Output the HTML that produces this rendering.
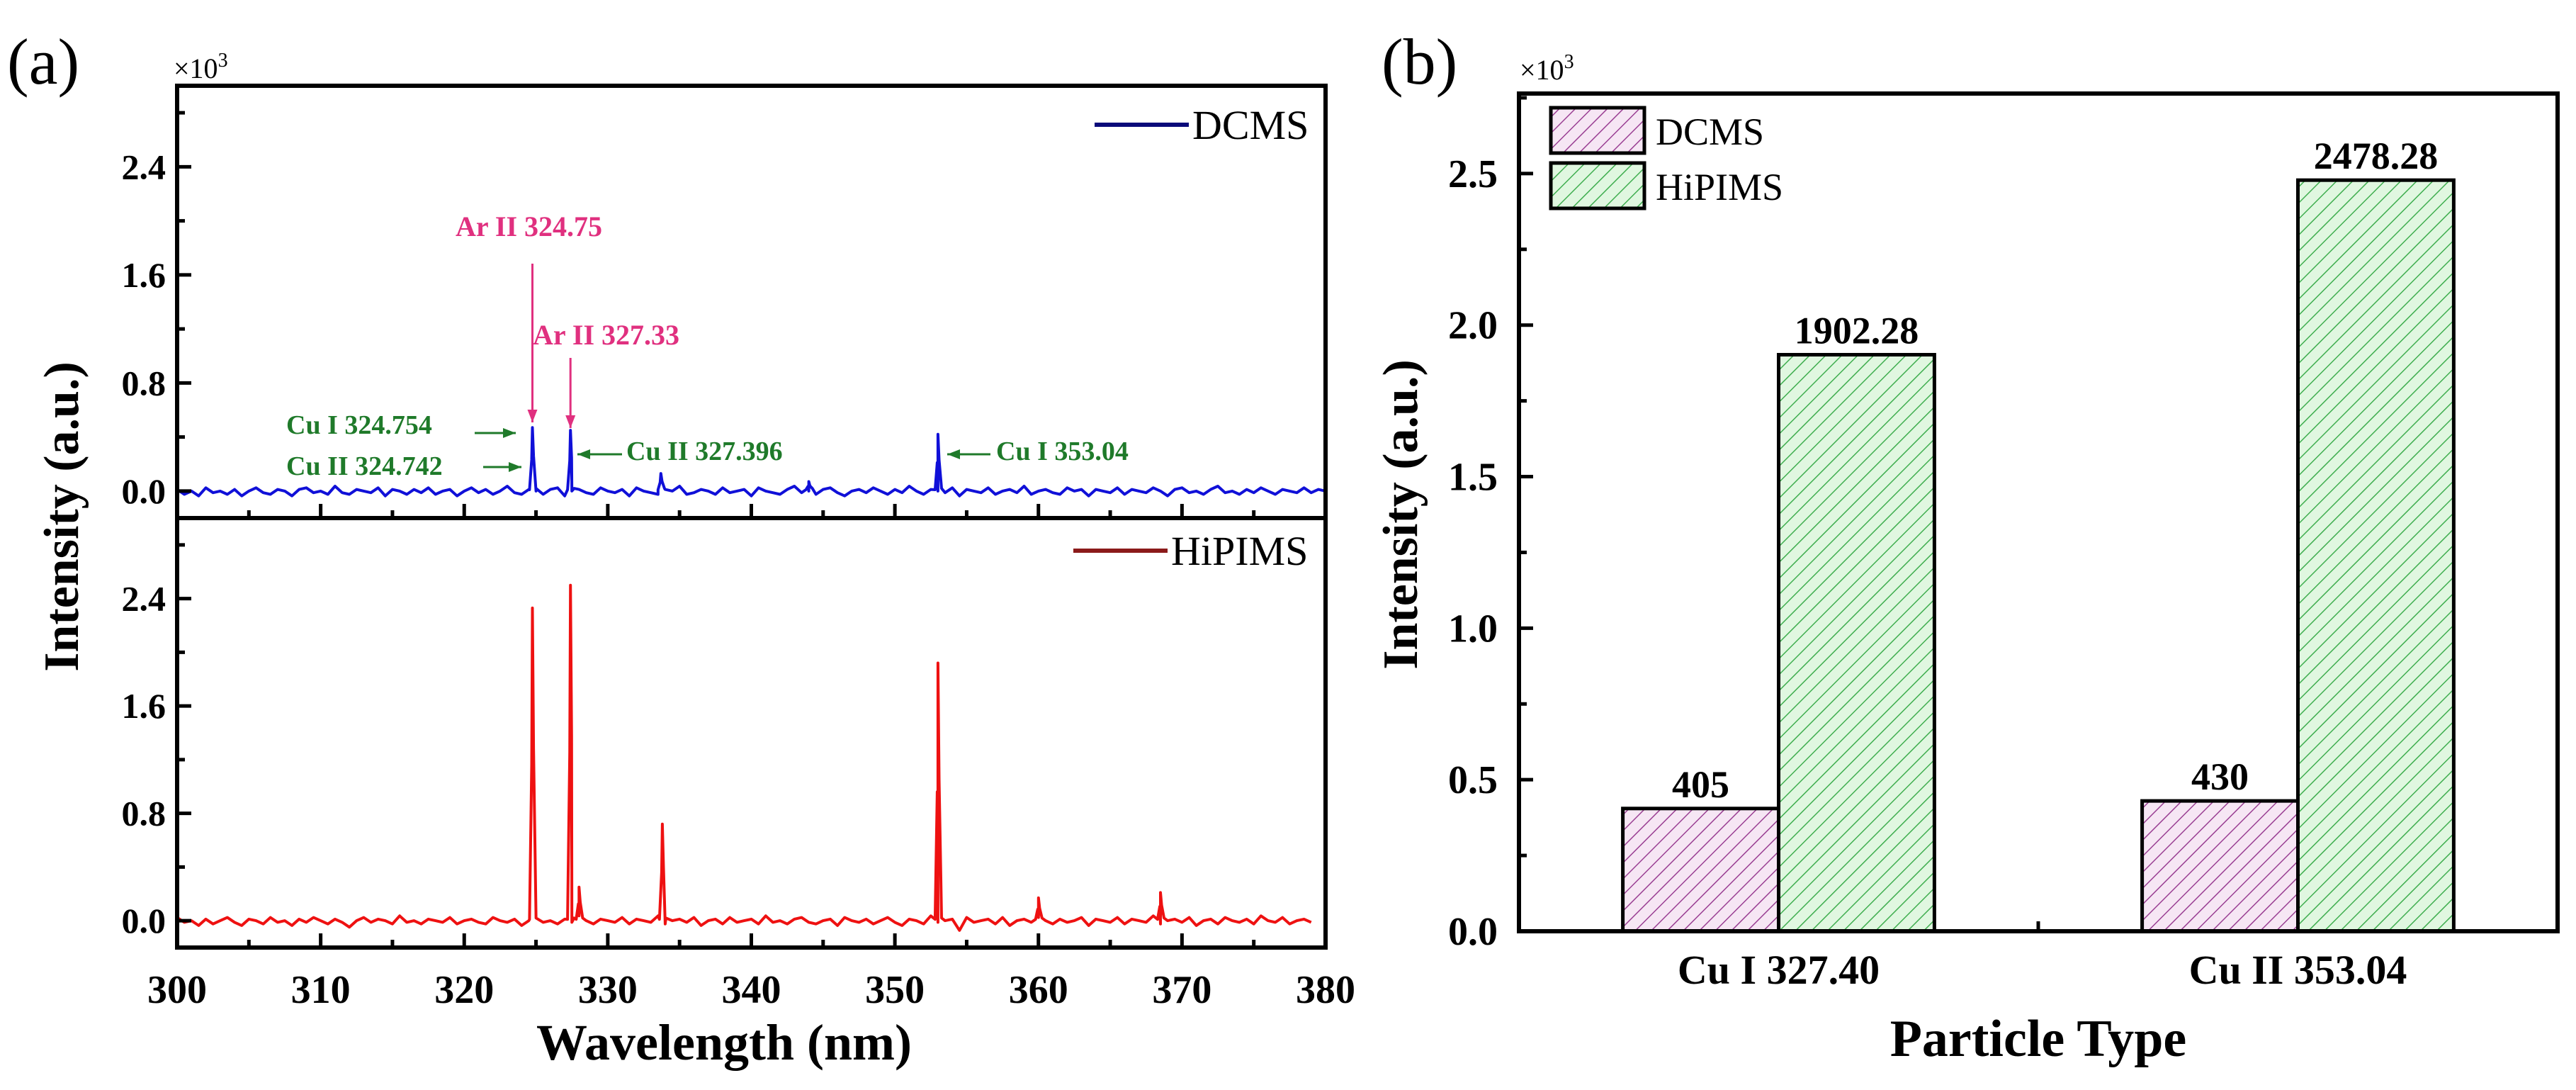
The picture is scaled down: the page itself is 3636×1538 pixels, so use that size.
<!DOCTYPE html>
<html><head><meta charset="utf-8"><style>
html,body{margin:0;padding:0;background:#fff;}
svg{display:block;}
text{font-family:"Liberation Serif",serif;}
</style></head><body>
<svg id="fig" width="3636" height="1538" viewBox="0 0 3636 1538" xmlns="http://www.w3.org/2000/svg">
<defs>
<pattern id="hatchPink" patternUnits="userSpaceOnUse" width="16" height="16" patternTransform="rotate(45)">
<rect width="16" height="16" fill="#f6e6f4"/><line x1="0" y1="0" x2="0" y2="16" stroke="#9a3f93" stroke-width="3"/></pattern>
<pattern id="hatchGreen" patternUnits="userSpaceOnUse" width="16" height="16" patternTransform="rotate(45)">
<rect width="16" height="16" fill="#e0f7e0"/><line x1="0" y1="0" x2="0" y2="16" stroke="#3fae4f" stroke-width="3"/></pattern>
</defs>
<g id="root"></g>
</svg>
<script>
// ---------- Panel (a) data ----------
const xTicksA = [300,310,320,330,340,350,360,370,380];
const yTicksA = [0.0,0.8,1.6,2.4];
const yTickLabelsA = ["0.0","0.8","1.6","2.4"];
const noiseStart = 300, noiseStep = 0.5;
const dcmsNoise = [1,-2,0,-3,2,-1,0,-2,1,-3,0,2,-1,-2,1,0,-3,1,2,-1,0,-2,3,-1,-2,1,0,-1,2,-3,1,0,-2,1,-1,2,-2,0,1,-3,0,2,-1,1,-2,0,3,-1,-2,1,0,-2,1,2,-3,0,1,-1,-2,2,0,-1,1,-3,2,0,-1,-2,1,0,3,-2,-1,1,0,-2,2,-1,0,1,-3,2,0,-1,-2,1,3,-1,0,-2,1,2,-1,-3,0,1,-1,2,0,-2,1,-1,3,0,-2,1,0,-1,2,-3,1,0,-1,2,-2,0,1,-1,3,-2,0,1,-1,-2,2,0,1,-3,1,0,-1,2,-2,1,0,-1,2,0,-3,1,2,-1,0,-2,1,3,-1,0,-2,1,-1,2,0,-2,1,0,-1,2,-1,1,0];
const hipimsNoise = [2,-1,0,-3,1,-2,0,2,-1,-3,1,0,-2,2,-1,0,-3,1,-1,2,0,-2,1,-1,-4,0,2,-1,1,0,-2,3,-1,0,-2,1,0,-1,2,-2,0,1,-1,-2,2,0,-1,1,-3,0,2,-1,0,-2,1,-1,3,0,-2,1,0,-1,2,-2,1,0,-1,3,-2,0,1,-1,2,-3,0,1,-2,2,-1,0,1,-2,3,-1,0,-2,1,2,-1,-2,0,1,-3,2,0,-1,1,-2,0,2,-1,-3,1,0,-2,3,-1,0,1,-6,2,-1,0,1,-2,2,-3,0,1,-1,2,0,-2,1,-1,0,2,-3,1,0,-1,2,-2,1,0,-1,3,-2,0,1,-1,2,-3,0,1,-2,2,0,-1,1,-2,3,0,-1,2,-2,0,1,-1];
const dcmsPeakPos = [324.75,327.4,333.7,344.0,353.0];
const dcmsPeakH   = [0.47,0.45,0.13,0.07,0.42];
const hipimsPeakPos = [324.75,327.4,328.0,333.8,353.0,360.0,368.5];
const hipimsPeakH   = [2.33,2.5,0.25,0.72,1.92,0.17,0.21];
// ---------- Panel (b) data ----------
const categories = ["Cu I 327.40","Cu II 353.04"];
const dcmsBars = [405,430];
const hipimsBars = [1902.28,2478.28];
const barLabelsD = ["405","430"];
const barLabelsH = ["1902.28","2478.28"];
const yTicksB = [0.0,0.5,1.0,1.5,2.0,2.5];
const yTickLabelsB = ["0.0","0.5","1.0","1.5","2.0","2.5"];

const NS="http://www.w3.org/2000/svg";
const root=document.getElementById('root');
function el(tag,attrs,parent,txt){const e=document.createElementNS(NS,tag);for(const k in attrs)e.setAttribute(k,attrs[k]);if(txt!==undefined)e.textContent=txt;(parent||root).appendChild(e);return e;}

// ---------- Panel (a) ----------
const AX0=250, AX1=1871;
const xA=v=>AX0+(v-300)/(380-300)*(AX1-AX0);
const panels=[{name:'dcms',top:121,bot:731,noise:dcmsNoise,pp:dcmsPeakPos,ph:dcmsPeakH,color:'#1010d8',leg:'#0a0a7a',label:'DCMS',legX:1545,legY:176},
              {name:'hipims',top:731,bot:1337,noise:hipimsNoise,pp:hipimsPeakPos,ph:hipimsPeakH,color:'#ee1111',leg:'#8b1a1a',label:'HiPIMS',legX:1515,legY:777}];
panels.forEach(p=>{
  const y=v=>p.bot-(v+0.2)/3.2*(p.bot-p.top);
  const g=el('g',{});
  
  
  let pts=[];
  p.noise.forEach((n,i)=>pts.push([noiseStart+i*noiseStep,n*0.012]));
  p.pp.forEach((x0,k)=>{pts.push([x0-0.2,0.01]);pts.push([x0-0.05,p.ph[k]*0.5]);pts.push([x0,p.ph[k]]);pts.push([x0+0.08,p.ph[k]*0.55]);pts.push([x0+0.25,0.02]);});
  pts=pts.filter(q=>q[0]>=300&&q[0]<=380);
  pts.sort((a,b)=>a[0]-b[0]);
  const d=pts.map((q,i)=>(i?'L':'M')+xA(q[0]).toFixed(1)+' '+y(q[1]).toFixed(1)).join(' ');
  const path=el('path',{d:d,fill:'none',stroke:p.color,'stroke-width':4,'stroke-linejoin':'round'},g);
  
  
  xTicksA.forEach(v=>{el('line',{x1:xA(v),x2:xA(v),y1:p.bot,y2:p.bot-20,stroke:'#000','stroke-width':5},g);});
  xTicksA.slice(0,-1).forEach(v=>{el('line',{x1:xA(v+5),x2:xA(v+5),y1:p.bot,y2:p.bot-11,stroke:'#000','stroke-width':5},g);});
  for(let v=-0.0;v<=2.8;v+=0.4){el('line',{x1:AX0,x2:AX0+(Math.round(v*10)%8===0?20:11),y1:y(v),y2:y(v),stroke:'#000','stroke-width':5},g);}
  yTicksA.forEach((v,i)=>{const t=el('text',{x:234,y:y(v)+17,'text-anchor':'end','font-size':50,'font-weight':'bold'},g,yTickLabelsA[i]);});
  el('rect',{x:AX0,y:p.top,width:AX1-AX0,height:p.bot-p.top,fill:'none',stroke:'#000','stroke-width':6},g);
  const lg=el('g',{},g);
  
  
  el('line',{x1:p.legX,x2:p.legX+133,y1:p.legY,y2:p.legY,stroke:p.leg,'stroke-width':6},lg);
  el('text',{x:p.legX+138,y:p.legY+20,'font-size':58},lg,p.label);
});
xTicksA.forEach(v=>{const t=el('text',{x:xA(v),y:1415,'text-anchor':'middle','font-size':56,'font-weight':'bold'},root,String(v));});
let t;
t=el('text',{x:1022,y:1495,'text-anchor':'middle','font-size':72,'font-weight':'bold'},root,'Wavelength (nm)');

t=el('text',{x:0,y:0,'text-anchor':'middle','font-size':70,'font-weight':'bold',transform:'translate(110,729) rotate(-90)'},root,'Intensity (a.u.)');

t=el('text',{x:10,y:118,'font-size':92},root,'(a)');

t=el('text',{x:245,y:110,'font-size':40},root,'×10');el('tspan',{dy:-16,'font-size':28},t,'3');


const pink='#e0307f', green='#1f7a2a';
function ann(txt,x,y,col,size,name){const a=el('text',{x:x,y:y,'font-size':size,'font-weight':'bold',fill:col},root,txt);}
function arrow(x1,y1,x2,y2,col,name){const g=el('g',{});
  el('line',{x1:x1,y1:y1,x2:x2,y2:y2,stroke:col,'stroke-width':3},g);
  const ang=Math.atan2(y2-y1,x2-x1),L=18,W=7;
  const bx=x2-L*Math.cos(ang),by=y2-L*Math.sin(ang);
  el('polygon',{points:`${x2},${y2} ${bx-W*Math.sin(ang)},${by+W*Math.cos(ang)} ${bx+W*Math.sin(ang)},${by-W*Math.cos(ang)}`,fill:col},g);}
ann('Ar II 324.75',643,333,pink,40,'annotation-ar-324');
arrow(xA(324.75),372,xA(324.75),596,pink,'arrow-ar-324');
ann('Ar II 327.33',752,486,pink,40,'annotation-ar-327');
arrow(xA(327.4),505,xA(327.4),604,pink,'arrow-ar-327');
ann('Cu I 324.754',404,612,green,38,'annotation-cu-324754');
arrow(670,611,728,611,green,'arrow-cu-324754');
ann('Cu II 324.742',404,670,green,38,'annotation-cu-324742');
arrow(682,659,736,659,green,'arrow-cu-324742');
ann('Cu II 327.396',884,649,green,38,'annotation-cu-327396');
arrow(878,641,815,641,green,'arrow-cu-327396');
ann('Cu I 353.04',1406,649,green,38,'annotation-cu-35304');
arrow(1398,641,1337,641,green,'arrow-cu-35304');

// ---------- Panel (b) ----------
const BX0=2144,BX1=3610,BT=132,BB=1314,BMAX=2.764;
const yB=v=>BB-v/BMAX*(BB-BT);
const xB=c=>BX0+(c+0.5)/2*(BX1-BX0);
const barW=0.3*(BX1-BX0)/2;
const gb=el('g',{});


categories.forEach((c,i)=>{
  const cx=xB(i);
  const r1=el('rect',{x:cx-barW,y:yB(dcmsBars[i]/1000),width:barW,height:BB-yB(dcmsBars[i]/1000),fill:'url(#hatchPink)',stroke:'#000','stroke-width':5},gb);
  
  
  const r2=el('rect',{x:cx,y:yB(hipimsBars[i]/1000),width:barW,height:BB-yB(hipimsBars[i]/1000),fill:'url(#hatchGreen)',stroke:'#000','stroke-width':5},gb);
  
  
  const l1=el('text',{x:cx-barW/2,y:yB(dcmsBars[i]/1000)-16,'text-anchor':'middle','font-size':54,'font-weight':'bold'},gb,barLabelsD[i]);
  
  const l2=el('text',{x:cx+barW/2,y:yB(hipimsBars[i]/1000)-16,'text-anchor':'middle','font-size':54,'font-weight':'bold'},gb,barLabelsH[i]);
  
  const cl=el('text',{x:cx,y:1388,'text-anchor':'middle','font-size':58,'font-weight':'bold'},gb,c);
  
});
el('line',{x1:xB(0.5),x2:xB(0.5),y1:BB,y2:BB-14,stroke:'#000','stroke-width':5},gb);
for(let v=0;v<=2.75;v+=0.25){el('line',{x1:BX0,x2:BX0+(Math.round(v*100)%50===0?20:11),y1:yB(v),y2:yB(v),stroke:'#000','stroke-width':5},gb);}
yTicksB.forEach((v,i)=>{const tt=el('text',{x:2114,y:yB(v)+19,'text-anchor':'end','font-size':56,'font-weight':'bold'},gb,yTickLabelsB[i]);});
el('rect',{x:BX0,y:BT,width:BX1-BX0,height:BB-BT,fill:'none',stroke:'#000','stroke-width':6},gb);
const lb=el('g',{},gb);


el('rect',{x:2189,y:152,width:132,height:64,fill:'url(#hatchPink)',stroke:'#000','stroke-width':5},lb);
el('rect',{x:2189,y:230,width:132,height:64,fill:'url(#hatchGreen)',stroke:'#000','stroke-width':5},lb);
el('text',{x:2337,y:204,'font-size':54},lb,'DCMS');
el('text',{x:2337,y:282,'font-size':54},lb,'HiPIMS');
t=el('text',{x:2877,y:1490,'text-anchor':'middle','font-size':74,'font-weight':'bold'},root,'Particle Type');

t=el('text',{x:0,y:0,'text-anchor':'middle','font-size':70,'font-weight':'bold',transform:'translate(2000,726) rotate(-90)'},root,'Intensity (a.u.)');

t=el('text',{x:1950,y:118,'font-size':92},root,'(b)');

t=el('text',{x:2145,y:112,'font-size':40},root,'×10');el('tspan',{dy:-16,'font-size':28},t,'3');

</script>
</body></html>
